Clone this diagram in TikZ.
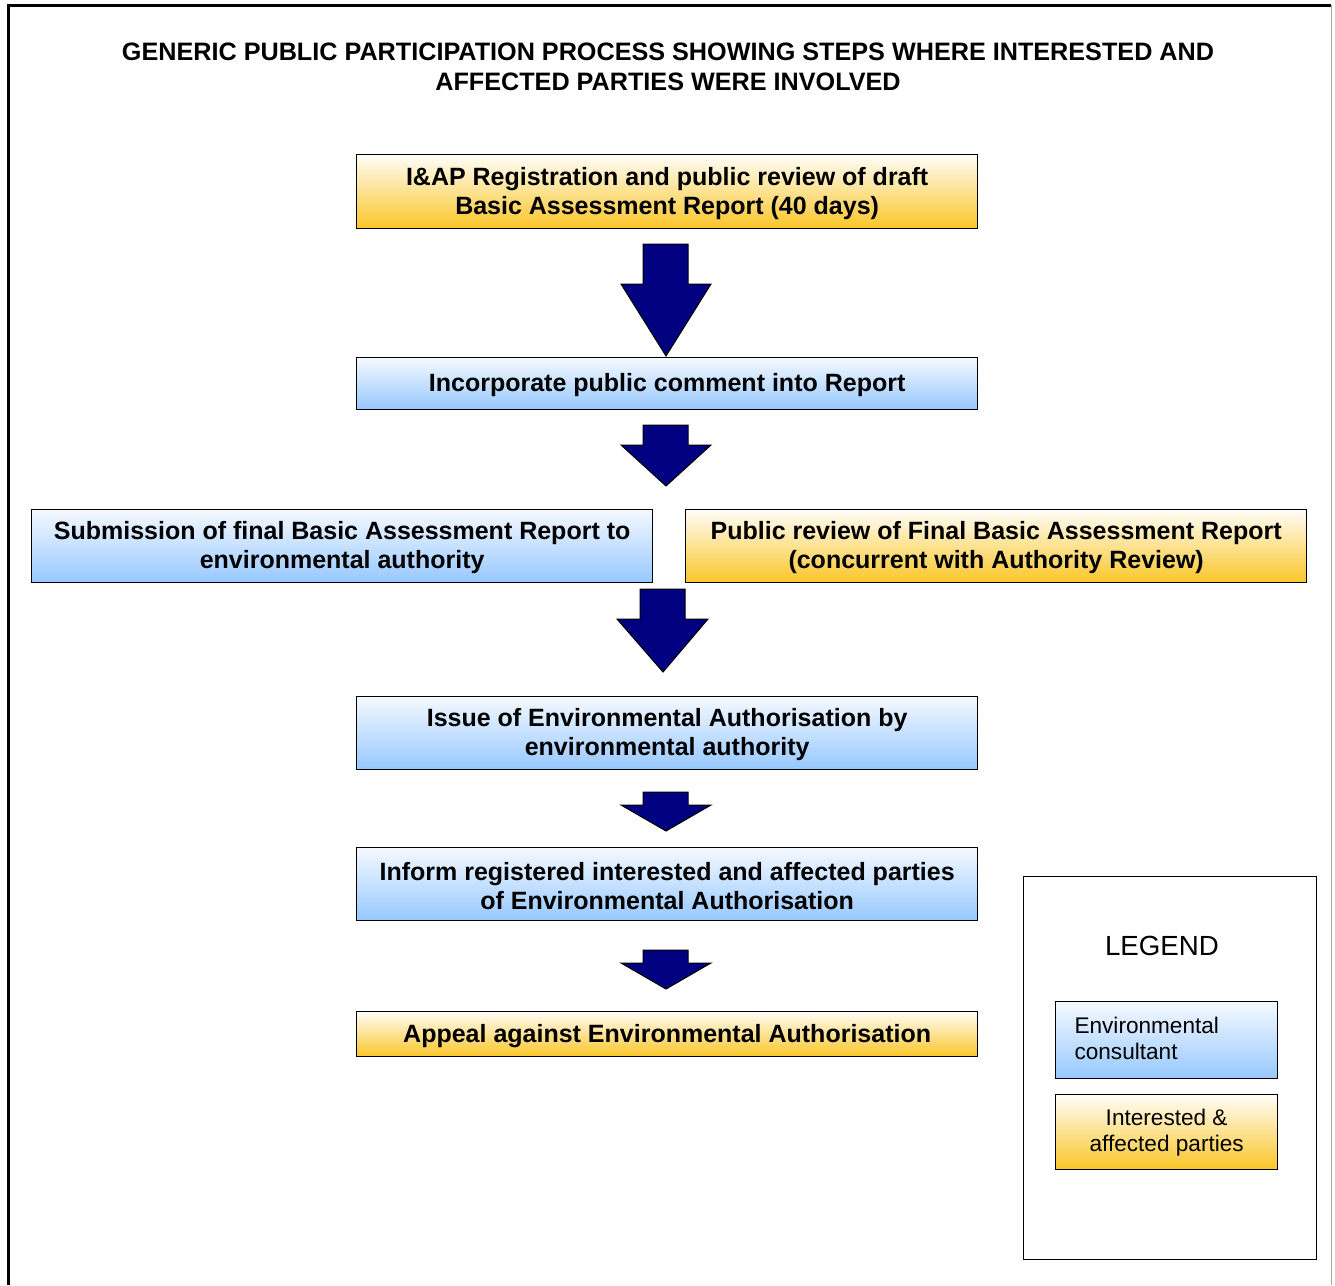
\documentclass[tikz,border=0pt]{standalone}
\usepackage{fontspec}
\setmainfont{Liberation Sans}
\definecolor{bluebot}{RGB}{150,200,255}
\definecolor{bluetop}{RGB}{245,249,255}
\definecolor{goldbot}{RGB}{250,198,40}
\definecolor{goldtop}{RGB}{255,253,248}
\definecolor{navyarrow}{RGB}{0,0,128}
\begin{document}
\begin{tikzpicture}[x=1pt,y=-1pt,
  box/.style={draw=black, line width=1.3pt, minimum width=621pt, inner sep=0pt, align=center,
     font=\fontsize{25}{29}\selectfont\bfseries, anchor=north west},
  bluebox/.style={box, top color=bluetop, bottom color=bluebot},
  goldbox/.style={box, top color=goldtop, bottom color=goldbot},
  blockarrow/.style={draw=black, line width=1pt, fill=navyarrow, line join=miter},
  legbox/.style={draw=black, line width=1.3pt, minimum width=222pt, inner sep=0pt,
     font=\fontsize{22.6}{26}\selectfont, anchor=north west}
]
\useasboundingbox (0,0) rectangle (1335,1285);
\fill[white] (0,0) rectangle (1335,1285);
% frame
\draw[line width=3pt] (8,1285) -- (8,5) -- (1331,5);
\draw[line width=1pt, gray!70] (1331,5) -- (1331,1285);
% title
\node[align=center, font=\fontsize{25.2}{30}\selectfont\bfseries] (title) at (668,67)
  {GENERIC PUBLIC PARTICIPATION PROCESS SHOWING STEPS WHERE INTERESTED AND\\AFFECTED PARTIES WERE INVOLVED};
% boxes
\node[goldbox, minimum height=74pt] (b1) at (356,154) {\rule{0pt}{21pt}I\&AP Registration and public review of draft\\Basic Assessment Report (40 days)};
\node[bluebox, minimum height=52pt] (b2) at (356,357) {\rule{0pt}{21pt}Incorporate public comment into Report};
\node[bluebox, minimum height=73pt] (b3) at (31,509) {\rule{0pt}{21pt}Submission of final Basic Assessment Report to\\environmental authority};
\node[goldbox, minimum height=73pt] (b4) at (685,509) {\rule{0pt}{21pt}Public review of Final Basic Assessment Report\\(concurrent with Authority Review)};
\node[bluebox, minimum height=73pt] (b5) at (356,696) {\rule{0pt}{21pt}Issue of Environmental Authorisation by\\environmental authority};
\node[bluebox, minimum height=73pt] (b6) at (356,847) {\rule{0pt}{21pt}Inform registered interested and affected parties\\of Environmental Authorisation};
\node[goldbox, minimum height=45pt] (b7) at (356,1011) {\rule{0pt}{21pt}Appeal against Environmental Authorisation};
% block arrows
\draw[blockarrow] (643,244) -- (688,244) -- (688,284) -- (711,284) -- (666,356) -- (621,284) -- (643,284) -- cycle;
\draw[blockarrow] (643,425) -- (688,425) -- (688,445) -- (711,445) -- (666,486) -- (621,445) -- (643,445) -- cycle;
\draw[blockarrow] (640,589) -- (685,589) -- (685,619) -- (708,619) -- (663,672) -- (617,619) -- (640,619) -- cycle;
\draw[blockarrow] (643,792) -- (688,792) -- (688,805) -- (711,805) -- (666,831) -- (621,805) -- (643,805) -- cycle;
\draw[blockarrow] (643,950) -- (688,950) -- (688,963) -- (711,963) -- (666,989) -- (621,963) -- (643,963) -- cycle;
% legend
\node[draw=black, line width=1.3pt, minimum width=293pt, minimum height=383pt, anchor=north west, inner sep=0pt] (leg) at (1023,876) {};
\node[font=\fontsize{27.7}{30}\selectfont] (legt) at (1162,946) {LEGEND};
\node[legbox, top color=bluetop, bottom color=bluebot, minimum height=77pt] (l1) at (1055,1001) {};
\node[font=\fontsize{22.6}{26}\selectfont, align=left, anchor=west] (l1t) at (1071,1038) {Environmental\\consultant};
\node[legbox, top color=goldtop, bottom color=goldbot, minimum height=75pt, align=center] (l2) at (1055,1094) {\rule{0pt}{17pt}Interested \&\\affected parties};
\end{tikzpicture}
\end{document}
